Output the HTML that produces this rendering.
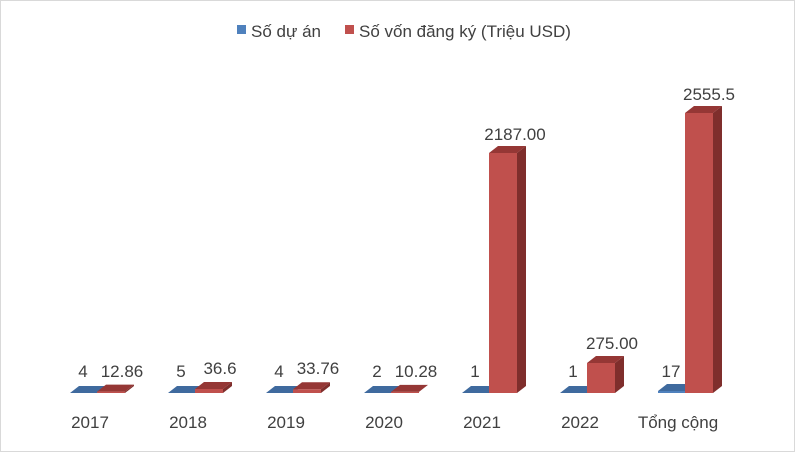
<!DOCTYPE html>
<html><head><meta charset="utf-8"><style>
html,body{margin:0;padding:0;background:#fff}
svg{display:block}
text{font-family:"Liberation Sans",Arial,sans-serif;font-size:17px;fill:#404040}
</style></head><body>
<svg width="795" height="452" viewBox="0 0 795 452">
<rect x="0.5" y="0.5" width="794" height="451" fill="#fff" stroke="#d9d9d9"/>
<rect x="237" y="25" width="9" height="9" fill="#4f81bd"/>
<text x="251" y="37">Số dự án</text>
<rect x="345" y="25" width="9" height="9" fill="#c0504d"/>
<text x="359" y="37">Số vốn đăng ký (Triệu USD)</text>
<g>
<polygon points="70,393 97,393 106,386 79,386" fill="#3f6a9e"/>
<polygon points="97,391.6 125,391.6 134,384.6 106,384.6" fill="#953735"/>
<rect x="97" y="391.6" width="28" height="1.4" fill="#c0504d"/>
<polygon points="125,393 125,391.6 134,384.6 134,386" fill="#7f2e2c"/>
<polygon points="168,393 195,393 204,386 177,386" fill="#3f6a9e"/>
<rect x="195" y="389" width="28" height="4" fill="#c0504d"/>
<polygon points="195,389 223,389 232,382 204,382" fill="#953735"/>
<polygon points="223,393 223,389 232,382 232,386" fill="#7f2e2c"/>
<polygon points="266,393 293,393 302,386 275,386" fill="#3f6a9e"/>
<rect x="293" y="389.3" width="28" height="3.7" fill="#c0504d"/>
<polygon points="293,389.3 321,389.3 330,382.3 302,382.3" fill="#953735"/>
<polygon points="321,393 321,389.3 330,382.3 330,386" fill="#7f2e2c"/>
<polygon points="364,393 391,393 400,386 373,386" fill="#3f6a9e"/>
<polygon points="391,391.9 419,391.9 428,384.9 400,384.9" fill="#953735"/>
<rect x="391" y="391.9" width="28" height="1.1" fill="#c0504d"/>
<polygon points="462,393 489,393 498,386 471,386" fill="#3f6a9e"/>
<rect x="489" y="153" width="28" height="240" fill="#c0504d"/>
<polygon points="489,153 517,153 526,146 498,146" fill="#953735"/>
<polygon points="517,393 517,153 526,146 526,386" fill="#7f2e2c"/>
<polygon points="560,393 587,393 596,386 569,386" fill="#3f6a9e"/>
<rect x="587" y="363" width="28" height="30" fill="#c0504d"/>
<polygon points="587,363 615,363 624,356 596,356" fill="#953735"/>
<polygon points="615,393 615,363 624,356 624,386" fill="#7f2e2c"/>
<rect x="658" y="391" width="27" height="2" fill="#4f81bd"/>
<polygon points="658,391 685,391 694,384 667,384" fill="#3f6a9e"/>
<rect x="685" y="113" width="28" height="280" fill="#c0504d"/>
<polygon points="685,113 713,113 722,106 694,106" fill="#953735"/>
<polygon points="713,393 713,113 722,106 722,386" fill="#7f2e2c"/>
</g>
<g text-anchor="middle">
<text x="83" y="377">4</text><text x="122" y="377">12.86</text>
<text x="181" y="377">5</text><text x="220" y="374">36.6</text>
<text x="279" y="377">4</text><text x="318" y="374">33.76</text>
<text x="377" y="377">2</text><text x="416" y="377">10.28</text>
<text x="475" y="377">1</text><text x="515" y="140">2187.00</text>
<text x="573" y="377">1</text><text x="612" y="349">275.00</text>
<text x="671" y="377">17</text><text x="709" y="100">2555.5</text>
<text x="90" y="428">2017</text>
<text x="188" y="428">2018</text>
<text x="286" y="428">2019</text>
<text x="384" y="428">2020</text>
<text x="482" y="428">2021</text>
<text x="580" y="428">2022</text>
<text x="678" y="428">Tổng cộng</text>
</g>
</svg>
</body></html>
